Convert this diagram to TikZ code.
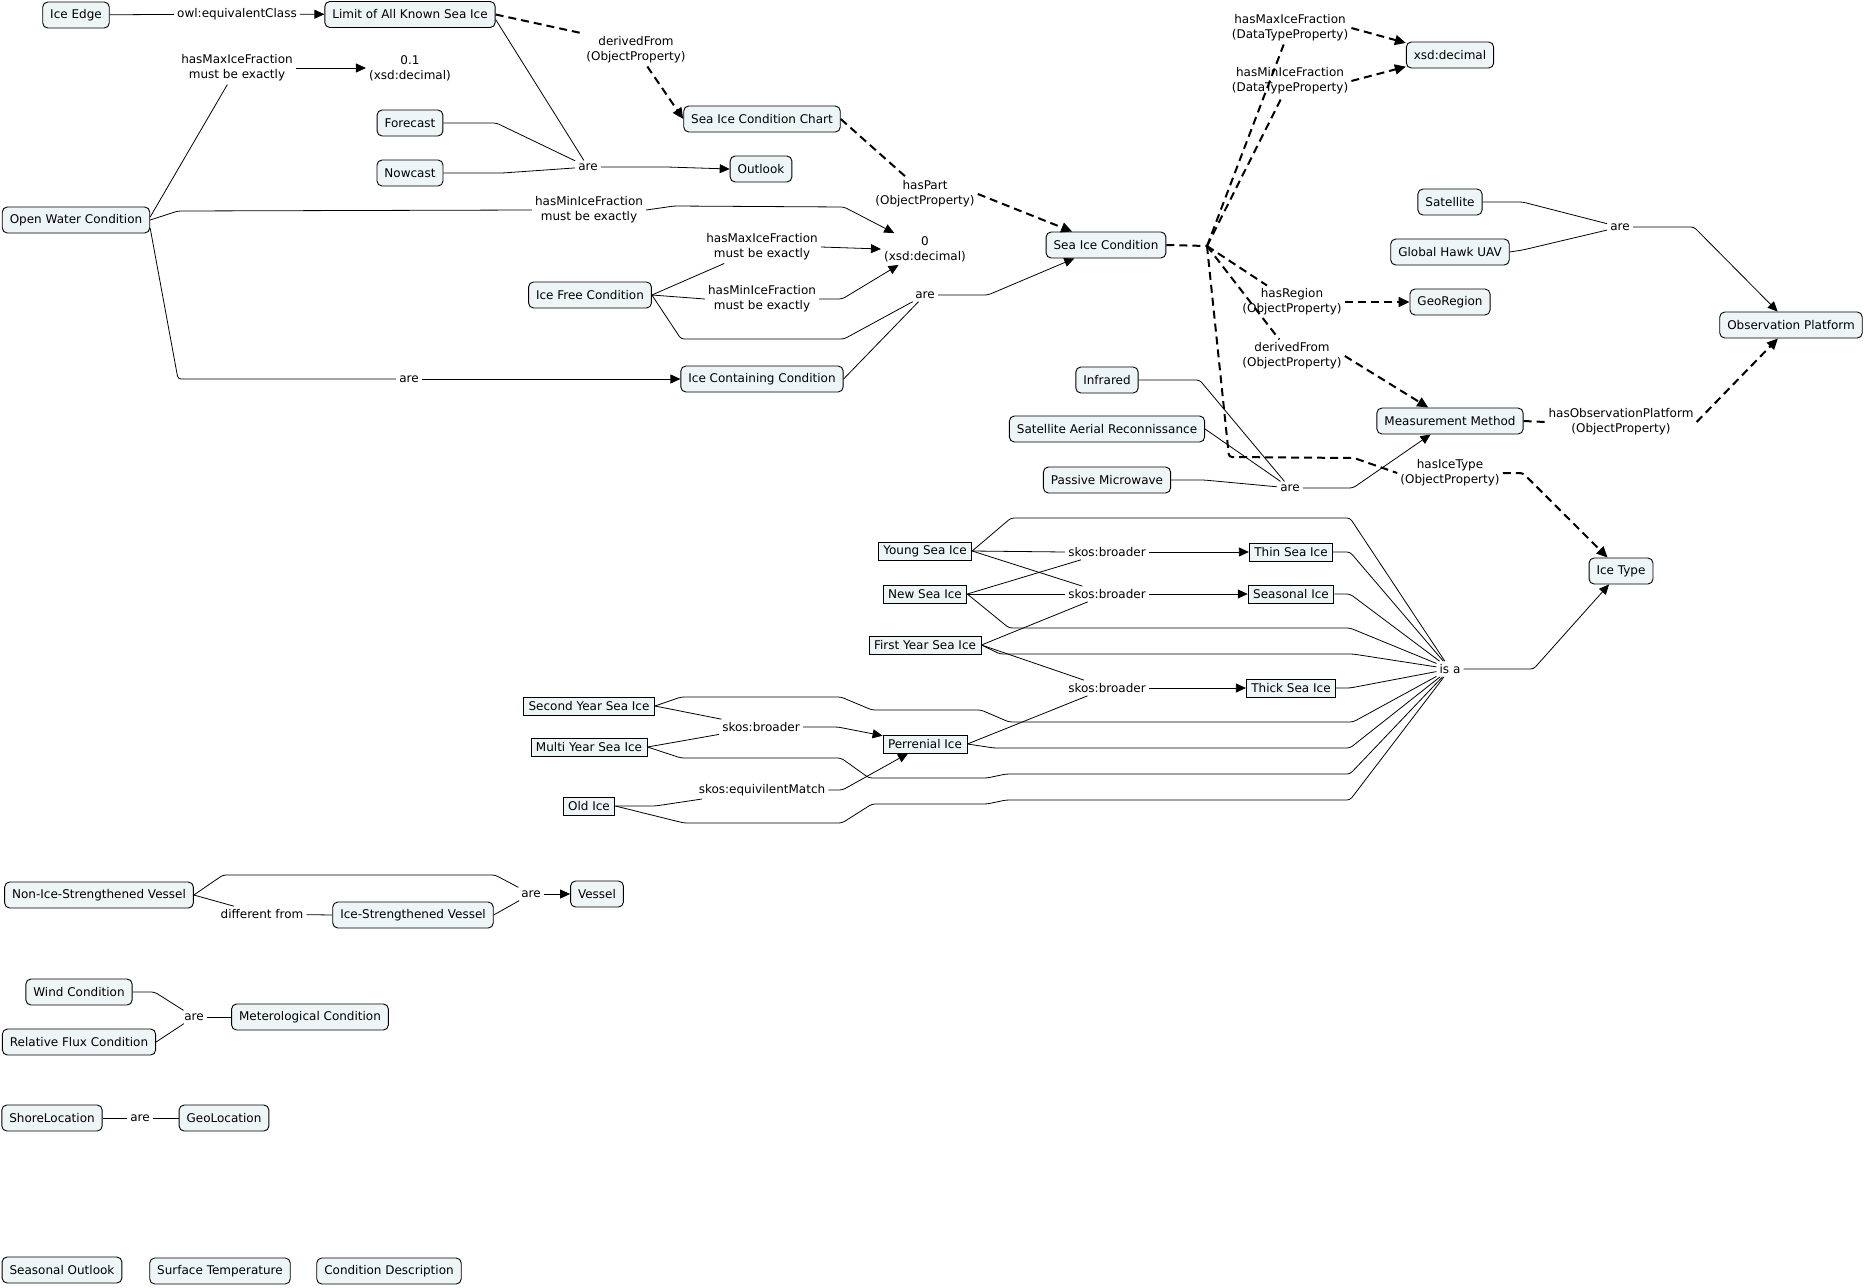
\documentclass[tikz,border=0pt]{standalone}
\usepackage{fontspec}
\setmainfont{DejaVu Sans}
\usetikzlibrary{arrows.meta}
\definecolor{conceptfill}{RGB}{238,245,246}
\newcommand{\mapfont}{\fontsize{12}{15}\selectfont}

\tikzset{
  concept/.style={draw=black, line width=0.9pt, fill=conceptfill, rounded corners=5pt, inner xsep=7.5pt, inner ysep=0pt, minimum height=26pt, font=\mapfont},
  sqconcept/.style={draw=black, line width=0.9pt, fill=conceptfill, inner xsep=5pt, inner ysep=0pt, minimum height=18pt, font=\mapfont},
  phrase/.style={inner sep=3pt, align=center, font=\mapfont},
  conn/.style={line width=0.8pt, rounded corners=3pt},
  connarrow/.style={conn, -{Triangle[length=10pt,width=9pt]}},
  dconn/.style={line width=2pt, dash pattern=on 8pt off 5pt, rounded corners=3pt},
  dconnarrow/.style={dconn, -{Triangle[length=11pt,width=10pt]}},
}

\begin{document}
\begin{tikzpicture}[x=1pt, y=-1pt]
    \fill[white] (0,0) rectangle (1864,1288);

    % TOP LEFT: open water and ice free conditions
    \node[concept] (iceedge) at (76,15) {Ice Edge};
    \node[concept] (limit) at (410,14.5) {Limit of All Known Sea Ice};
    \node[concept] (chart) at (762,119) {Sea Ice Condition Chart};
    \node[concept] (forecast) at (410,123) {Forecast};
    \node[concept] (nowcast) at (410,173) {Nowcast};
    \node[concept] (outlook) at (761,169) {Outlook};
    \node[concept] (owc) at (76,220) {Open Water Condition};
    \node[concept] (ifc) at (590,295) {Ice Free Condition};
    \node[concept] (icc) at (762,379) {Ice Containing Condition};
    \node[phrase] (v01) at (410,68) {0.1\\(xsd:decimal)};
    \node[phrase] (v0) at (925,249) {0\\(xsd:decimal)};

    \node[phrase] (l_equiv) at (237,14) {owl:equivalentClass};
    \node[phrase] (l_derived1) at (636,50) {derivedFrom\\(ObjectProperty)};
    \node[phrase] (l_max1) at (237,68) {hasMaxIceFraction\\must be exactly};
    \node[phrase] (l_are1) at (588,167) {are};
    \node[phrase] (l_min1) at (589,210) {hasMinIceFraction\\must be exactly};
    \node[phrase] (l_max2) at (762,247) {hasMaxIceFraction\\must be exactly};
    \node[phrase] (l_min2) at (762,299) {hasMinIceFraction\\must be exactly};
    \node[phrase] (l_are2) at (925,295) {are};
    \node[phrase] (l_are3) at (409,379) {are};
    \node[phrase] (l_haspart) at (925,194) {hasPart\\(ObjectProperty)};

    \draw[conn] (iceedge) -- (l_equiv);
    \draw[connarrow] (l_equiv) -- (limit);
    \draw[dconn] (limit.east) -- (l_derived1.north west);
    \draw[dconnarrow] (l_derived1) -- (chart.west);
    \draw[conn] ([yshift=3pt]owc.east) -- (l_max1);
    \draw[connarrow] (l_max1) -- (v01);
    \draw[conn] (forecast.east) -- ++(53,0) -- (l_are1);
    \draw[conn] (nowcast.east) -- ++(59,0) -- (l_are1);
    \draw[conn] ([yshift=-5pt]limit.east) -- (l_are1);
    \draw[connarrow] (l_are1.east) -- ++(66,0) -- (outlook.west);
    \draw[conn] (owc.east) -- (178,211) -- (l_min1.west);
    \draw[connarrow] (l_min1.east) -- ++(28,-4) -- (844,207) -- (v0);
    \draw[conn] (ifc.east) -- (l_max2);
    \draw[conn] (ifc.east) -- (l_min2.west);
    \draw[connarrow] (l_max2.east) -- (v0.west);
    \draw[connarrow] (l_min2.east) -- ++(23,0) -- (v0);
    \draw[conn] (ifc.east) -- (681,339) -- (844,339) -- (l_are2);
    \draw[conn] (icc.east) -- (l_are2);
    \draw[conn] ([yshift=-8pt]owc.east) -- (178,379) -- (l_are3.west);
    \draw[connarrow] (l_are3) -- (icc.west);

    % TOP RIGHT: sea ice condition and its properties
    \node[concept] (sic) at (1106,245) {Sea Ice Condition};
    \node[concept] (xsd) at (1450,55) {xsd:decimal};
    \node[concept] (satellite) at (1450,202) {Satellite};
    \node[concept] (ghuav) at (1450,252) {Global Hawk UAV};
    \node[concept] (georegion) at (1450,302) {GeoRegion};
    \node[concept] (obsplat) at (1791,325) {Observation Platform};
    \node[concept] (infrared) at (1107,380) {Infrared};
    \node[concept] (sar) at (1107,429) {Satellite Aerial Reconnissance};
    \node[concept] (pmw) at (1107,480) {Passive Microwave};
    \node[concept] (mm) at (1450,421) {Measurement Method};
    \node[concept] (icetype) at (1621,571) {Ice Type};
    \coordinate (j) at (1207,246);

    \node[phrase] (l_maxdt) at (1290,28) {hasMaxIceFraction\\(DataTypeProperty)};
    \node[phrase] (l_mindt) at (1290,81) {hasMinIceFraction\\(DataTypeProperty)};
    \node[phrase] (l_region) at (1292,302) {hasRegion\\(ObjectProperty)};
    \node[phrase] (l_derived2) at (1292,356) {derivedFrom\\(ObjectProperty)};
    \node[phrase] (l_are4) at (1620,227) {are};
    \node[phrase] (l_are5) at (1290,488) {are};
    \node[phrase] (l_hasobs) at (1621,422) {hasObservationPlatform\\(ObjectProperty)};
    \node[phrase] (l_icetype) at (1450,473) {hasIceType\\(ObjectProperty)};

    \draw[dconn] (chart.east) -- (l_haspart);
    \draw[dconnarrow] (l_haspart.east) -- (sic);
    \draw[connarrow] (l_are2.east) -- ++(50,0) -- (sic);
    \draw[dconn] (sic.east) -- (j);
    \draw[dconn] (j) -- (l_maxdt);
    \draw[dconn] (j) -- (l_mindt);
    \draw[dconn] (j) -- (l_region);
    \draw[dconn] (j) -- (l_derived2);
    \draw[dconn] (j) -- (1229,457) -- (1354,458) -- (l_icetype.west);
    \draw[dconnarrow] (l_maxdt.east) -- (xsd);
    \draw[dconnarrow] (l_mindt.east) -- (xsd);
    \draw[dconnarrow] (l_region.east) -- (georegion.west);
    \draw[dconnarrow] (l_derived2.east) -- (mm);
    \draw[conn] (satellite.east) -- ++(40,0) -- (l_are4);
    \draw[conn] (ghuav.east) -- ++(13,-2) -- (l_are4);
    \draw[connarrow] (l_are4.east) -- ++(61,0) -- (obsplat);
    \draw[conn] (infrared.east) -- ++(61,0) -- (l_are5);
    \draw[conn] (sar.east) -- (l_are5);
    \draw[conn] (pmw.east) -- ++(33,0) -- (l_are5);
    \draw[connarrow] (l_are5.east) -- ++(50,0) -- (mm);
    \draw[dconn] (mm.east) -- (l_hasobs.west);
    \draw[dconnarrow] (l_hasobs.east) -- (obsplat);
    \draw[dconnarrow] (l_icetype.east) -- ++(20,0) -- (icetype);

    % MIDDLE: ice types
    \node[sqconcept] (young) at (925,551) {Young Sea Ice};
    \node[sqconcept] (newice) at (925,594) {New Sea Ice};
    \node[sqconcept] (firsty) at (925,645) {First Year Sea Ice};
    \node[sqconcept] (perrenial) at (925,744) {Perrenial Ice};
    \node[sqconcept] (secondy) at (589,706) {Second Year Sea Ice};
    \node[sqconcept] (multiy) at (589,747) {Multi Year Sea Ice};
    \node[sqconcept] (oldice) at (589,806) {Old Ice};
    \node[sqconcept] (thin) at (1291,552) {Thin Sea Ice};
    \node[sqconcept] (seasonalice) at (1291,594) {Seasonal Ice};
    \node[sqconcept] (thick) at (1291,688) {Thick Sea Ice};

    \node[phrase] (l_sb1) at (1107,552) {skos:broader};
    \node[phrase] (l_sb2) at (1107,594) {skos:broader};
    \node[phrase] (l_sb3) at (1107,688) {skos:broader};
    \node[phrase] (l_sb4) at (761,727) {skos:broader};
    \node[phrase] (l_eqm) at (762,790) {skos:equivilentMatch};
    \node[phrase] (l_isa) at (1450,669) {is a};

    \draw[conn] (young.east) -- (l_sb1.west);
    \draw[conn] (young.east) -- (l_sb2);
    \draw[conn] (newice.east) -- (l_sb1);
    \draw[conn] (newice.east) -- (l_sb2.west);
    \draw[conn] (firsty.east) -- (l_sb2);
    \draw[conn] (firsty.east) -- (l_sb3);
    \draw[conn] (perrenial.east) -- (l_sb3);
    \draw[connarrow] (l_sb1) -- (thin.west);
    \draw[connarrow] (l_sb2) -- (seasonalice.west);
    \draw[connarrow] (l_sb3) -- (thick.west);
    \draw[conn] (secondy.east) -- (l_sb4);
    \draw[conn] (multiy.east) -- (l_sb4);
    \draw[connarrow] (l_sb4.east) -- ++(35,0) -- (perrenial);
    \draw[conn] (oldice.east) -- ++(40,0) -- (l_eqm);
    \draw[connarrow] (l_eqm.east) -- ++(14,0) -- (perrenial);

    % is a
    \draw[conn] (young.east) -- (1011,518) -- (1350,518) -- (l_isa);
    \draw[conn] (thin.east) -- (1350,552) -- (l_isa);
    \draw[conn] (seasonalice.east) -- (1350,594) -- (l_isa);
    \draw[conn] (newice.east) -- (1009,628) -- (1350,628) -- (l_isa);
    \draw[conn] (firsty.east) -- (1000,654) -- (1353,654) -- (l_isa);
    \draw[conn] (thick.east) -- (1350,688) -- (l_isa);
    \draw[conn] (secondy.east) -- (681,697) -- (841,697) -- (872,710) -- (981,710) -- (1009,722) -- (1353,722) -- (l_isa);
    \draw[conn] (perrenial.east) -- (994,748) -- (1350,748) -- (l_isa);
    \draw[conn] (multiy.east) -- (681,758) -- (841,758) -- (869,778) -- (987,778) -- (1006,774) -- (1350,774) -- (l_isa);
    \draw[conn] (oldice.east) -- (684,823) -- (842,823) -- (872,804) -- (987,804) -- (1006,800) -- (1350,800) -- (l_isa);
    \draw[connarrow] (l_isa.east) -- ++(70,0) -- (icetype);

    % BOTTOM LEFT: vessels, weather, locations
    \node[concept] (nisv) at (99,895) {Non-Ice-Strengthened Vessel};
    \node[concept] (isv) at (413,915) {Ice-Strengthened Vessel};
    \node[concept] (vessel) at (597,894) {Vessel};
    \node[phrase] (l_diff) at (262,914) {different from};
    \node[phrase] (l_are6) at (531,894) {are};
    \draw[conn] (nisv.east) -- (223,875) -- (495,875) -- (l_are6);
    \draw[conn] (nisv.east) -- (l_diff);
    \draw[conn] (l_diff) -- (isv.west);
    \draw[conn] (isv.east) -- (l_are6);
    \draw[connarrow] (l_are6) -- (vessel.west);

    \node[concept] (wind) at (79,992) {Wind Condition};
    \node[concept] (rfc) at (79,1042) {Relative Flux Condition};
    \node[concept] (met) at (310,1017) {Meterological Condition};
    \node[phrase] (l_are7) at (194,1017) {are};
    \draw[conn] (wind.east) -- ++(22,0) -- (l_are7);
    \draw[conn] (rfc.east) -- (l_are7);
    \draw[conn] (l_are7) -- (met.west);

    \node[concept] (shore) at (52,1118) {ShoreLocation};
    \node[concept] (geoloc) at (224,1118) {GeoLocation};
    \node[phrase] (l_are8) at (140,1118) {are};
    \draw[conn] (shore) -- (l_are8);
    \draw[conn] (l_are8) -- (geoloc);

    % loose concepts
    \node[concept] (seasonal) at (62,1270) {Seasonal Outlook};
    \node[concept] (surftemp) at (220,1271) {Surface Temperature};
    \node[concept] (conddesc) at (389,1271) {Condition Description};
\end{tikzpicture}
\end{document}
